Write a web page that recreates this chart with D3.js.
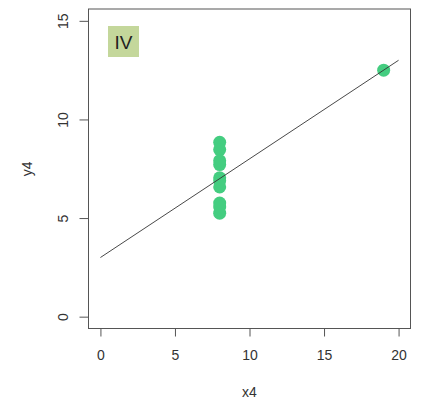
<!DOCTYPE html>
<html>
<head>
<meta charset="utf-8">
<script src="https://cdn.jsdelivr.net/npm/d3@7"></script>
<style>
  html, body { margin: 0; padding: 0; background: #fff; }
  svg { display: block; font-family: "Liberation Sans", Arial, sans-serif; }
</style>
</head>
<body>
<svg id="chart" width="421" height="402"></svg>
<script>
const x4 = [8, 8, 8, 8, 8, 8, 8, 19, 8, 8, 8];
const y4 = [6.58, 5.76, 7.71, 8.84, 8.47, 7.04, 5.25, 12.50, 5.56, 7.91, 6.89];
const xTicks = [0, 5, 10, 15, 20];
const yTicks = [0, 5, 10, 15];
const fitIntercept = 3.0;
const fitSlope = 0.5;
const fitRange = [0, 20];
const panelLabel = "IV";
const xLabel = "x4";
const yLabel = "y4";

(function () {
const svg = d3.select("#chart");
const pLeft = 88.5, pRight = 410.5, pTop = 9, pBottom = 328.5;

const x = d3.scaleLinear().domain([-0.8, 20.8]).range([pLeft, pRight]);
const y = d3.scaleLinear().domain([-0.6, 15.6]).range([pBottom, pTop]);

// box
svg.append("rect")
  .attr("x", pLeft).attr("y", pTop)
  .attr("width", pRight - pLeft).attr("height", pBottom - pTop)
  .attr("fill", "none").attr("stroke", "#555").attr("stroke-width", 1);

// x axis
const xAxis = svg.append("g")
  .attr("transform", `translate(0,${pBottom})`)
  .call(d3.axisBottom(x).tickValues(xTicks).tickSize(8).tickPadding(14).tickFormat(d3.format("d")));
xAxis.select(".domain").attr("d", `M${x(0)},0H${x(20)}`).attr("stroke", "#555");
xAxis.selectAll(".tick line").attr("stroke", "#555");
xAxis.selectAll(".tick text").attr("fill", "#333").attr("font-size", 14).attr("font-family", "Liberation Sans, Arial, sans-serif");

// y axis
const yAxis = svg.append("g")
  .attr("transform", `translate(${pLeft},0)`)
  .call(d3.axisLeft(y).tickValues(yTicks).tickSize(9).tickPadding(0).tickFormat(d3.format("d")));
yAxis.select(".domain").attr("d", `M0,${y(0)}V${y(15)}`).attr("stroke", "#555");
yAxis.selectAll(".tick line").attr("stroke", "#555");
yAxis.selectAll(".tick text")
  .attr("fill", "#333").attr("font-size", 14).attr("font-family", "Liberation Sans, Arial, sans-serif")
  .attr("x", null).attr("dy", null)
  .attr("text-anchor", "middle")
  .attr("transform", "translate(-26,0) rotate(-90)")
  .attr("dominant-baseline", "central");

// axis titles
svg.append("text").attr("x", x(10)).attr("y", 397)
  .attr("text-anchor", "middle").attr("fill", "#333").attr("font-size", 14).text(xLabel);
svg.append("text")
  .attr("transform", `translate(32,${(pTop + pBottom) / 2}) rotate(-90)`)
  .attr("text-anchor", "middle").attr("fill", "#333").attr("font-size", 14).text(yLabel);

// points
svg.append("g").selectAll("circle")
  .data(x4.map((d, i) => [d, y4[i]]))
  .join("circle")
  .attr("cx", d => x(d[0])).attr("cy", d => y(d[1]))
  .attr("r", 6.5).attr("fill", "#44cd80");

// fit line
svg.append("line")
  .attr("x1", x(fitRange[0])).attr("y1", y(fitIntercept + fitSlope * fitRange[0]))
  .attr("x2", x(fitRange[1])).attr("y2", y(fitIntercept + fitSlope * fitRange[1]))
  .attr("stroke", "#333").attr("stroke-width", 0.9);

// panel label
svg.append("rect").attr("x", 108).attr("y", 26).attr("width", 31).attr("height", 31).attr("fill", "#c4d79b");
svg.append("text").attr("x", 123.5).attr("y", 42).attr("text-anchor", "middle")
  .attr("dominant-baseline", "central").attr("font-size", 19).attr("fill", "#222").text(panelLabel);
})();
</script>
</body>
</html>
